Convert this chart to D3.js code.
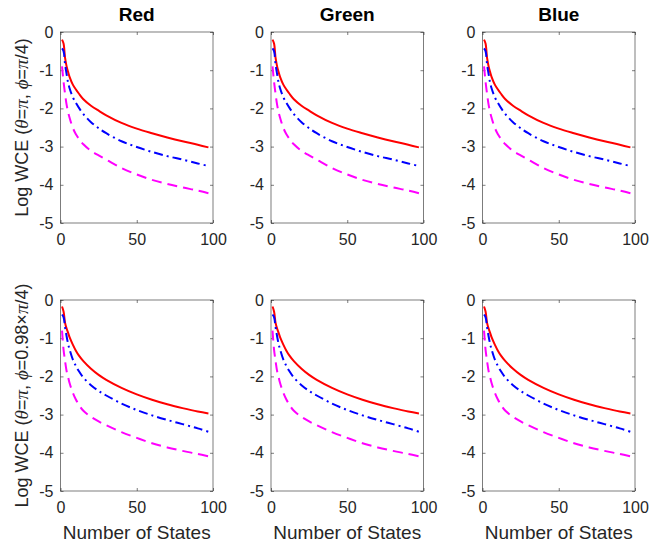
<!DOCTYPE html>
<html>
<head>
<meta charset="utf-8">
<script src="https://cdn.jsdelivr.net/npm/d3@7"></script>
<style>
  body { margin: 0; background: #fff; }
  svg text { font-family: "Liberation Sans", Arial, Helvetica, sans-serif; }
</style>
</head>
<body>
<div id="chart"></div>
<script>
// ___________________________Data_______________________________
const columns = ["Red", "Green", "Blue"];
const states = [1, 2, 3, 4, 5, 6, 8, 10, 12, 15, 20, 25, 30, 40, 50, 60, 70, 80, 90, 97];

// top row  (theta = pi, phi = pi/4)
const topSolid = [-0.2, -0.3, -0.68, -0.9, -1.05, -1.18, -1.37, -1.5, -1.61, -1.76, -1.93, -2.06, -2.18, -2.38, -2.53, -2.65, -2.76, -2.86, -2.95, -3.02];
const topDashDot = [-0.43, -0.5, -0.85, -1.1, -1.33, -1.48, -1.7, -1.85, -1.98, -2.15, -2.36, -2.52, -2.65, -2.86, -3.01, -3.14, -3.25, -3.34, -3.44, -3.51];
const topDashed = [-0.9, -1.3, -1.62, -1.9, -2.1, -2.25, -2.5, -2.67, -2.79, -2.94, -3.11, -3.23, -3.34, -3.56, -3.73, -3.87, -3.98, -4.07, -4.15, -4.22];

// bottom row (theta = pi, phi = 0.98*pi/4)
const botSolid = [-0.17, -0.3, -0.6, -0.75, -0.86, -0.98, -1.16, -1.32, -1.45, -1.6, -1.8, -1.96, -2.09, -2.3, -2.47, -2.61, -2.73, -2.83, -2.92, -2.97];
const botDashDot = [-0.38, -0.45, -0.71, -0.95, -1.15, -1.3, -1.55, -1.72, -1.86, -2.03, -2.23, -2.38, -2.5, -2.71, -2.88, -3.02, -3.14, -3.25, -3.36, -3.45];
const botDashed = [-0.8, -1.3, -1.6, -1.86, -2.02, -2.18, -2.42, -2.6, -2.74, -2.9, -3.06, -3.18, -3.28, -3.46, -3.61, -3.75, -3.86, -3.95, -4.03, -4.09];

const xTicks = [0, 50, 100];
const yTicks = [0, -1, -2, -3, -4, -5];

const rows = [
    { series: [topSolid, topDashDot, topDashed], phi: "=" },
    { series: [botSolid, botDashDot, botDashed], phi: "=0.98×" }
];

// ___________________________Layout_______________________________
const W = 652, H = 548;
const colLeft = [60.5, 271, 482.5];
const rowTop = [32, 300];
const pw = 152.5, ph = 191;

const styles = [
    { color: "#ff0000", dash: null },
    { color: "#0000ff", dash: "9,4,2,4" },
    { color: "#ff00ff", dash: "10,6" }
];

const svg = d3.select("#chart").append("svg")
    .attr("width", W)
    .attr("height", H);

const x = d3.scaleLinear().domain([0, 100]).range([0, pw]);
const y = d3.scaleLinear().domain([-5, 0]).range([ph, 0]);

const line = d3.line()
    .x((d) => x(d[0]))
    .y((d) => y(d[1]))
    .curve(d3.curveCatmullRom.alpha(0.5));

rows.forEach((row, r) => {
    columns.forEach((col, c) => {
        const g = svg.append("g")
            .attr("transform", "translate(" + colLeft[c] + "," + rowTop[r] + ")");

        // ticks (inside, mirrored on all four sides)
        const axes = [
            g.append("g").attr("transform", "translate(0," + ph + ")")
                .call(d3.axisBottom(x).tickValues(xTicks).tickSize(-3).tickPadding(11).tickFormat((d) => String(d))),
            g.append("g")
                .call(d3.axisTop(x).tickValues(xTicks).tickSize(-3).tickFormat("")),
            g.append("g")
                .call(d3.axisLeft(y).tickValues(yTicks).tickSize(-3).tickPadding(7).tickFormat((d) => String(d))),
            g.append("g").attr("transform", "translate(" + pw + ",0)")
                .call(d3.axisRight(y).tickValues(yTicks).tickSize(-3).tickFormat(""))
        ];
        axes.forEach((a) => {
            a.select(".domain").remove();
            a.selectAll(".tick line").attr("stroke", "#262626").attr("stroke-width", 0.6);
            a.selectAll(".tick text")
                .attr("fill", "#262626")
                .style("font-size", "16px");
        });

        // box
        g.append("rect")
            .attr("x", 0).attr("y", 0)
            .attr("width", pw).attr("height", ph)
            .attr("fill", "none")
            .attr("stroke", "#262626")
            .attr("stroke-width", 0.6);

        // curves
        row.series.forEach((vals, i) => {
            const pts = states.map((s, k) => [s, vals[k]]);
            g.append("path")
                .datum(pts)
                .attr("d", line)
                .attr("fill", "none")
                .attr("stroke", styles[i].color)
                .attr("stroke-width", 2)
                .attr("stroke-dasharray", styles[i].dash);
        });

        // title on top row
        if (r === 0) {
            g.append("text")
                .attr("x", pw / 2)
                .attr("y", -11)
                .attr("text-anchor", "middle")
                .style("font-size", "19px")
                .style("font-weight", "bold")
                .attr("fill", "#000")
                .text(col);
        }
        // x label on bottom row
        if (r === 1) {
            g.append("text")
                .attr("x", pw / 2)
                .attr("y", ph + 48)
                .attr("text-anchor", "middle")
                .style("font-size", "19px")
                .attr("fill", "#262626")
                .text("Number of States");
        }
    });

    // y label, only on the first column
    const yl = svg.append("text")
        .attr("transform", "translate(28," + (rowTop[r] + ph / 2) + ") rotate(-90)")
        .attr("text-anchor", "middle")
        .style("font-size", "18px")
        .attr("fill", "#262626");
    const greek = (t) => yl.append("tspan")
        .style("font-family", "'Liberation Serif', 'DejaVu Serif', serif")
        .style("font-style", "italic")
        .style("font-size", "19px")
        .text(t);
    yl.append("tspan").text("Log WCE (");
    greek("θ");
    yl.append("tspan").text("=");
    greek("π");
    yl.append("tspan").text(",  ");
    greek("ϕ");
    yl.append("tspan").text(row.phi);
    greek("π");
    yl.append("tspan").text("/4)");
});
</script>
</body>
</html>
